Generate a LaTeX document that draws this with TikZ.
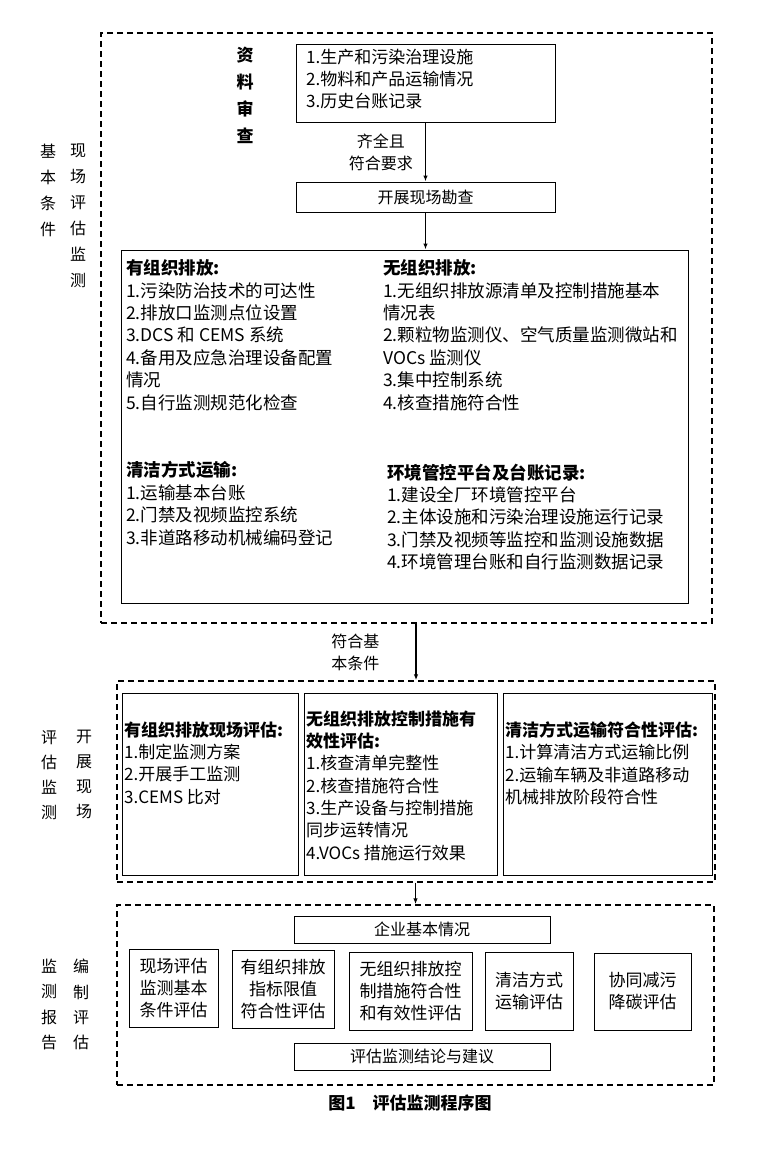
\documentclass[tikz,border=0pt]{standalone}
\usepackage{fontspec}
\setmainfont{Noto Sans CJK SC}
\usetikzlibrary{positioning,fit,arrows.meta}

\begin{document}
\begin{tikzpicture}[x=1pt,y=-1pt,
  every node/.style={inner sep=0pt},
  box/.style={draw, line width=1pt},
  dbox/.style={draw, line width=1.4pt, dash pattern=on 6pt off 4pt},
  arr/.style={-{Latex[length=6pt,width=4.5pt]}, line width=1.5pt},
  itemtxt/.style={anchor=north west, align=left, font=\fontsize{17.5}{22.4}\selectfont},
  vlabel/.style={anchor=north, align=center, font=\fontsize{16}{26}\selectfont},
  lbl/.style={font=\fontsize{16}{22}\selectfont},
  boxtxt/.style={align=center, font=\fontsize{17}{22}\selectfont}]
\useasboundingbox (0,0) rectangle (767,1154);

%Frames
\node[dbox, fit={(101,33) (712,623)}] (basic) {};
\node[dbox, fit={(117,681) (715,882)}] (field) {};
\node[dbox, fit={(117,905) (714,1085)}] (report) {};

%Side labels
\node[vlabel] (basicA) at (48,144) {基\\本\\条\\件};
\node[vlabel] (basicB) at (78,144) {现\\场\\评\\估\\监\\测};
\node[vlabel, font=\fontsize{16}{25}\selectfont] (fieldA) at (49,730) {评\\估\\监\\测};
\node[vlabel, font=\fontsize{16}{25}\selectfont] (fieldB) at (84,730) {开\\展\\现\\场};
\node[vlabel, font=\fontsize{16}{25.3}\selectfont] (reportA) at (49,959) {监\\测\\报\\告};
\node[vlabel, font=\fontsize{16}{25.3}\selectfont] (reportB) at (81,959) {编\\制\\评\\估};

%Document review
\node[vlabel, font=\bfseries\fontsize{17}{27.3}\selectfont] (reviewlbl) at (245,46.5) {资\\料\\审\\查};
\node[box, fit={(296,44) (555,122)}] (review) {};
\node[itemtxt, font=\fontsize{17}{22}\selectfont] (reviewtxt) at (306,49.5) {1.生产和污染治理设施\\2.物料和产品运输情况\\3.历史台账记录};
\node[box, minimum width=259, minimum height=30, lbl] (survey) at (425.5,197) {开展现场勘查};
\draw[arr] (review) -- node[left=12pt, align=center, lbl] (reviewok) {齐全且\\符合要求} (survey);

%On-site conditions
\node[box, fit={(121,250) (688,603)}] (onsite) {};
\draw[arr] (survey) -- (survey.south |- onsite.north);
\node[itemtxt] (organized) at (126,259.5) {\textbf{有组织排放:}\\1.污染防治技术的可达性\\2.排放口监测点位设置\\3.DCS 和 CEMS 系统\\4.备用及应急治理设备配置\\情况\\5.自行监测规范化检查};
\node[itemtxt] (fugitive) at (383,259.5) {\textbf{无组织排放:}\\1.无组织排放源清单及控制措施基本\\情况表\\2.颗粒物监测仪、空气质量监测微站和\\VOCs 监测仪\\3.集中控制系统\\4.核查措施符合性};
\node[itemtxt] (clean) at (126,461.5) {\textbf{清洁方式运输:}\\1.运输基本台账\\2.门禁及视频监控系统\\3.非道路移动机械编码登记};
\node[itemtxt] (platform) at (387,463.5) {\textbf{环境管控平台及台账记录:}\\1.建设全厂环境管控平台\\2.主体设施和污染治理设施运行记录\\3.门禁及视频等监控和监测设施数据\\4.环境管理台账和自行监测数据记录};

%Field evaluation
\draw[arr] (field.north |- basic.south) -- node[left=36pt, align=center, lbl] (basicok) {符合基\\本条件} (field.north);
\node[box, fit={(122,693) (298,875)}] (orgeval) {};
\node[box, fit={(304,693) (497,875)}] (fugeval) {};
\node[box, fit={(503,693) (712,875)}] (cleaneval) {};
\node[itemtxt, font=\fontsize{17}{22.3}\selectfont] (orgevaltxt) at (124,721.5) {\textbf{有组织排放现场评估:}\\1.制定监测方案\\2.开展手工监测\\3.CEMS 比对};
\node[itemtxt, font=\fontsize{17}{22.3}\selectfont] (fugevaltxt) at (306,710.5) {\textbf{无组织排放控制措施有}\\\textbf{效性评估:}\\1.核查清单完整性\\2.核查措施符合性\\3.生产设备与控制措施\\同步运转情况\\4.VOCs 措施运行效果};
\node[itemtxt, font=\fontsize{17}{22.3}\selectfont] (cleanevaltxt) at (505,721.5) {\textbf{清洁方式运输符合性评估:}\\1.计算清洁方式运输比例\\2.运输车辆及非道路移动\\机械排放阶段符合性};

%Report
\draw[arr] (report.north |- field.south) -- (report.north);
\node[box, minimum width=256, minimum height=27, lbl] (company) at (422,929.5) {企业基本情况};
\node[box, boxtxt, minimum width=89, minimum height=78] (evalA) at (173.5,988) {现场评估\\监测基本\\条件评估};
\node[box, boxtxt, minimum width=102, minimum height=78] (evalB) at (283,989) {有组织排放\\指标限值\\符合性评估};
\node[box, boxtxt, minimum width=123, minimum height=78] (evalC) at (410.5,991) {无组织排放控\\制措施符合性\\和有效性评估};
\node[box, boxtxt, minimum width=88, minimum height=78] (evalD) at (529,991) {清洁方式\\运输评估};
\node[box, boxtxt, minimum width=97, minimum height=77] (evalE) at (642.5,991.5) {协同减污\\降碳评估};
\node[box, minimum width=256, minimum height=27, lbl] (conclusion) at (422,1056.5) {评估监测结论与建议};

\node[font=\bfseries\fontsize{17}{20}\selectfont] (caption) at (410,1103) {图1\hspace{1em}评估监测程序图};
\end{tikzpicture}
\end{document}
